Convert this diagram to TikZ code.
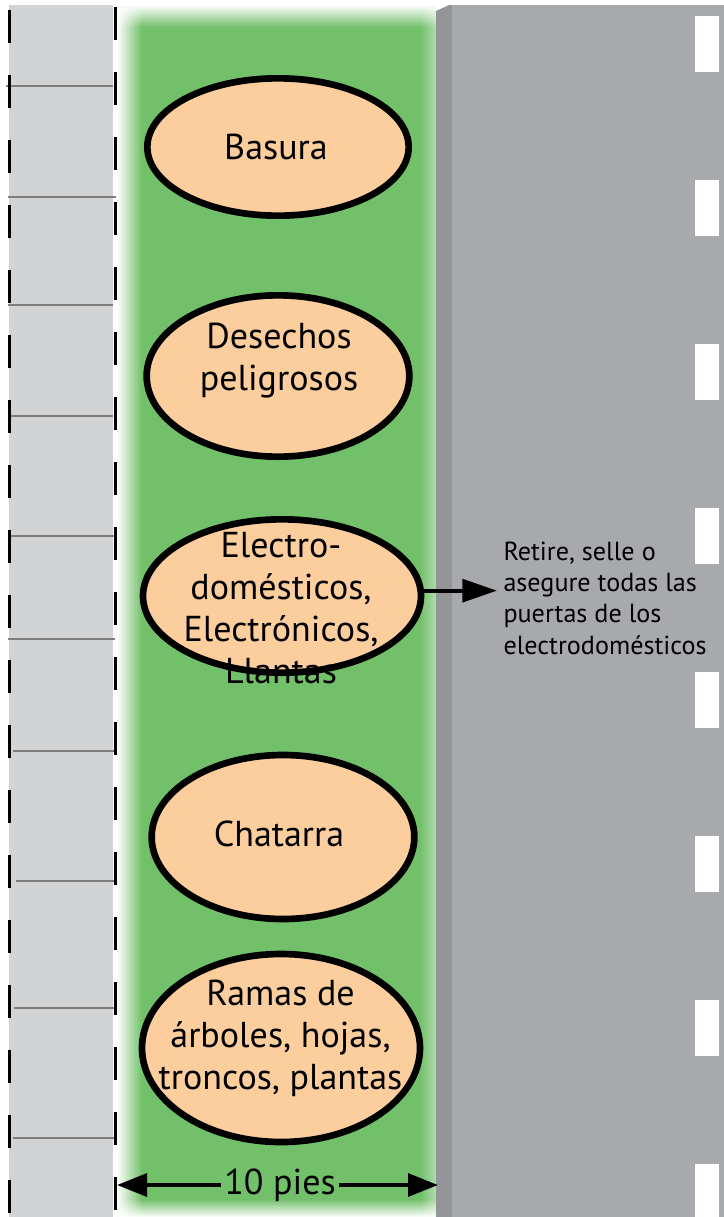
\documentclass[tikz,border=0pt]{standalone}
\usepackage{fontspec}
\setmainfont{PT Sans}
\usetikzlibrary{shapes.geometric,arrows.meta,fadings}

\definecolor{acera}{RGB}{209,211,212}
\definecolor{cesped}{RGB}{114,192,106}
\definecolor{bordillo}{RGB}{147,149,152}
\definecolor{calle}{RGB}{167,169,172}
\definecolor{durazno}{RGB}{252,206,158}
\definecolor{rayagris}{RGB}{125,125,125}

\tikzset{every picture/.style={line width=0.75pt}}
\tikzset{
  recipiente/.style={ellipse, draw=black, line width=5pt, fill=durazno, inner sep=0pt},
  rotulo/.style={align=center, font=\fontsize{27}{31.5}\selectfont, inner sep=0pt},
  aviso/.style={align=left, font=\fontsize{19.6}{23.5}\selectfont, inner ysep=0pt, inner xsep=4.5pt},
  flecha/.style={line width=3.2pt, -{Triangle[length=26pt,width=17pt]}},
  cota/.style={line width=3.2pt, -{Triangle[length=22.5pt,width=17pt]}},
  borde/.style={line width=2.25pt, dash pattern=on 24.75pt off 24pt},
  raya/.style={draw=rayagris, line width=1.1pt},
}

\begin{document}
\begin{tikzpicture}[x=0.75pt,y=0.75pt,yscale=-1,xscale=1]
\useasboundingbox (0,0) rectangle (724,1217);

%Shape: Rectangle (acera)
\fill[acera] (9,5) rectangle (113,1217);
%Straight Lines
\foreach \ya/\xa/\xb in {86/6/113, 197/8/116, 305/8/113, 416/8/113, 536/8/117, 639/8/115, 751/13/120, 881/16/123, 1008/14/121, 1138/13/120}
  \draw[raya] (\xa,\ya) -- (\xb,\ya);
\draw[borde] (9,10) -- (9,1217);
\draw[borde] (115,7) -- (115,1217);

%Shape: Rectangle (cesped)
\fill[cesped] (117,5) rectangle (436,1217);
\fill[white, path fading=east] (117,5) rectangle (142,1217);
\fill[white, path fading=south] (117,5) rectangle (436,27);
\fill[white, path fading=north] (117,1199) rectangle (436,1217);
\fill[white, fill opacity=0.45, path fading=west] (420,5) rectangle (436,1217);

%Shape: Polygon (bordillo)
\fill[bordillo] (436,11) -- (449,5) -- (452,5) -- (452,1217) -- (436,1217) -- cycle;
%Shape: Rectangle (calle)
\fill[calle] (452,5) rectangle (724,1217);
\foreach \y in {16,180,...,1164}
  \fill[white] (695,\y) rectangle (719,{min(\y+56,1217)});

%Shape: Ellipse
\node[recipiente, minimum width=196pt, minimum height=103pt] (basura) at (278,147) {};
\node[recipiente, minimum width=197pt, minimum height=121pt] (peligro) at (278,376) {};
\node[recipiente, minimum width=208.5pt, minimum height=115pt] (electro) at (282,596) {};
\node[recipiente, minimum width=197pt, minimum height=123pt] (chatarra) at (283,837) {};
\node[recipiente, minimum width=208.5pt, minimum height=141pt] (ramas) at (281,1048) {};

% Text Node
\node[rotulo] (tbasura) at (276,147) {Basura};
% Text Node
\node[rotulo] (tpeligro) at (279,361) {Desechos\\peligrosos};
% Text Node
\node[rotulo] (telectro) at (281,608) {Electro-\\domésticos,\\Electrónicos,\\Llantas};
% Text Node
\node[rotulo] (tchatarra) at (279,834) {Chatarra};
% Text Node
\node[rotulo] (tramas) at (280.5,1038.5) {Ramas de\\árboles, hojas,\\troncos, plantas};

% Text Node
\node[aviso, anchor=west] (nota) at (497,598) {Retire, selle o\\asegure todas las\\puertas de los\\electrodomésticos};
\draw[flecha] ([yshift=-4pt]electro.east) -- ([yshift=-4pt]electro.east -| nota.west);

% Text Node
\node[rotulo, inner xsep=2pt] (ancho) at (280,1185) {10 pies};
\coordinate (izq) at (117,1185);
\coordinate (der) at (438,1185);
\draw[cota] (ancho.west) -- (izq);
\draw[cota] (ancho.east) -- (der);

\end{tikzpicture}
\end{document}
